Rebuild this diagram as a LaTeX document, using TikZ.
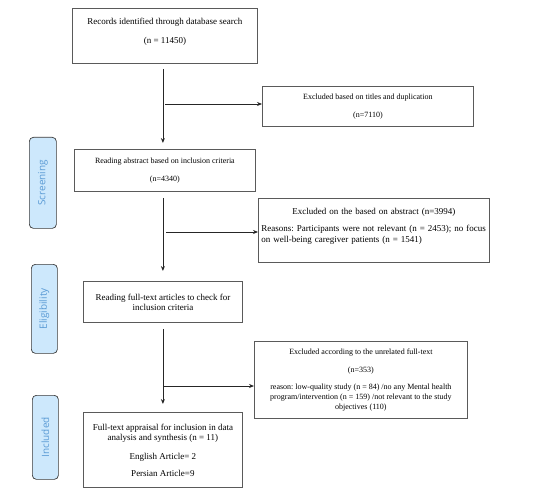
\documentclass[tikz,border=0pt]{standalone}
\usepackage{fontspec}
\setmainfont{Liberation Serif}
\newfontfamily\labelfont{Open Sans}
\usetikzlibrary{arrows.meta}
\frenchspacing
\definecolor{boxline}{HTML}{5A5A5A}
\definecolor{stagefill}{HTML}{CDE8FC}
\definecolor{stagetext}{HTML}{5B9BD5}
\definecolor{stageline}{HTML}{3A3A3A}
\tikzset{
  stepbox/.style={draw=boxline, line width=0.8pt, rectangle, inner sep=2pt, align=center, anchor=north west},
  stagebox/.style={draw=stageline, fill=stagefill, rounded corners=4pt, line width=0.7pt, anchor=north west, inner sep=0pt},
  stagetxt/.style={text=stagetext, font=\labelfont\fontsize{10}{12}\selectfont, rotate=90},
  flow/.style={draw=black!85, line width=0.8pt, -{Stealth[length=5pt,width=4pt]}},
}
\newcommand{\fnine}{\fontsize{9}{10.5}\selectfont}
\newcommand{\feight}{\fontsize{8}{10}\selectfont}
\begin{document}
\begin{tikzpicture}[x=1pt,y=-1pt]
\useasboundingbox (0,0) rectangle (538,500);

% stage labels
\node[stagebox, minimum width=27pt, minimum height=91pt] (s1) at (29,137) {};
\node[stagetxt] at (s1.center) {Screening};
\node[stagebox, minimum width=26pt, minimum height=89pt] (s2) at (31,264) {};
\node[stagetxt] at (s2.center) {Eligibility};
\node[stagebox, minimum width=26pt, minimum height=84pt] (s3) at (32,395) {};
\node[stagetxt] at (s3.center) {Included};

% boxes
\node[stepbox, minimum width=185pt, minimum height=55pt, font=\fnine] (b1) at (72,8)
  {Records identified through database search\\[9pt](n = 11450)\\[0pt]\mbox{}};
\node[stepbox, minimum width=211pt, minimum height=40pt, font=\feight] (b2) at (262,86)
  {Excluded based on titles and duplication\\[8pt](n=7110)};
\node[stepbox, minimum width=181pt, minimum height=42pt, font=\feight] (b3) at (74,149)
  {Reading abstract based on inclusion criteria\\[8pt](n=4340)};
\node[stepbox, minimum width=231pt, minimum height=64pt, font=\fnine, text width=225pt, inner xsep=3pt, align=left] (b4) at (258,198)
  {\centering Excluded on the based on abstract (n=3994)\par\vspace{7pt}\raggedright Reasons: Participants were not relevant (n = 2453); no focus\\ on well-being caregiver patients (n = 1541)\par\mbox{}};
\node[stepbox, minimum width=159pt, minimum height=41pt, font=\fontsize{9}{10}\selectfont] (b5) at (83,281)
  {Reading full-text articles to check for\\inclusion criteria};
\node[stepbox, minimum width=213pt, minimum height=77pt, font=\feight] (b6) at (254,341)
  {Excluded according to the unrelated full-text\\[8pt](n=353)\\[7pt]reason: low-quality study (n = 84) /no any Mental health\\program/intervention (n = 159) /not relevant to the study\\objectives (110)};
\node[stepbox, minimum width=159pt, minimum height=75pt, font=\fontsize{9}{10}\selectfont] (b7) at (83,412)
  {Full-text appraisal for inclusion in data\\analysis and synthesis (n = 11)\\[9pt]English Article= 2\\[7pt]Persian Article=9};

% connectors
\draw[flow, shorten <=5pt, shorten >=6pt] (b1.south -| b5.north) -- (b3.north -| b5.north);
\coordinate (j1) at (165,104);
\draw[flow] (j1) -- (j1 -| b2.west);

\draw[flow, shorten <=6pt, shorten >=10pt] (b3.south -| b5.north) -- (b5.north);
\coordinate (j2) at (166,232);
\draw[flow] (j2) -- (j2 -| b4.west);

\draw[flow, shorten <=6pt, shorten >=8pt] (b5.south) -- (b7.north);
\coordinate (j3) at (164,386);
\draw[flow] (j3) -- (j3 -| b6.west);
\end{tikzpicture}
\end{document}
